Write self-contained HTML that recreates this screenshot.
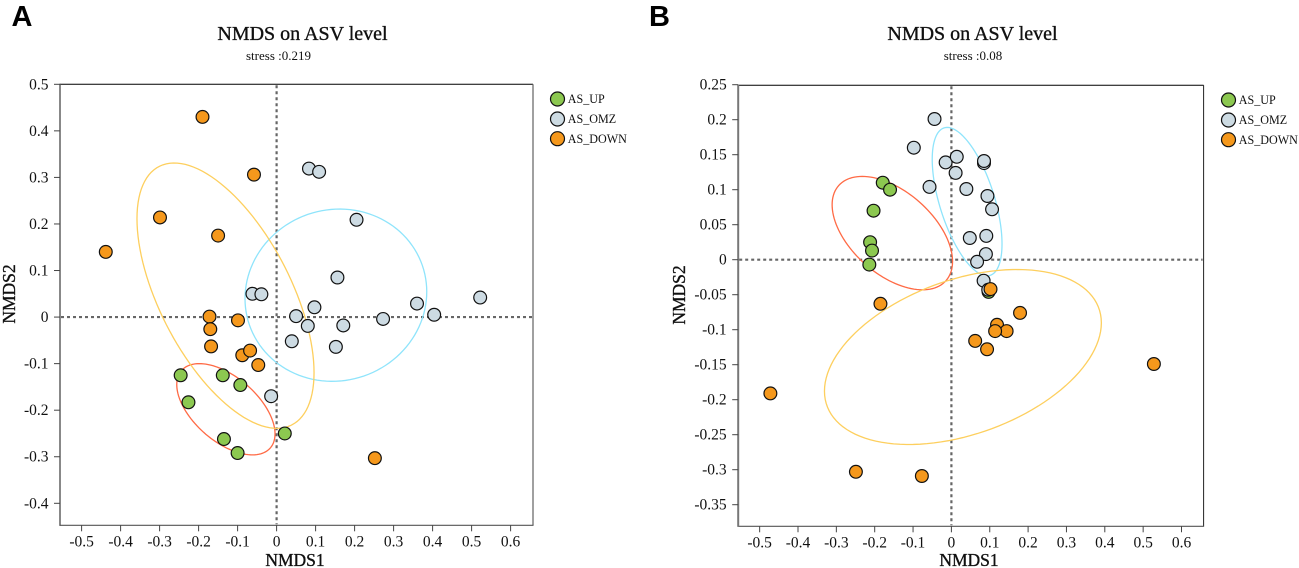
<!DOCTYPE html>
<html>
<head>
<meta charset="utf-8">
<title>NMDS on ASV level</title>
<style>
html,body{margin:0;padding:0;background:#fff;}
svg{display:block;filter:blur(0.35px);}
text{font-family:"Liberation Serif",serif;fill:#111;}
.panel{font-family:"Liberation Sans",sans-serif;font-weight:bold;font-size:29px;fill:#000;}
.heavy{stroke:#111;stroke-width:0.35px;}
</style>
</head>
<body>
<svg id="chart" width="1299" height="568" viewBox="0 0 1299 568" xmlns="http://www.w3.org/2000/svg">
<text class="panel" style="font-family:'Liberation Sans',sans-serif" x="11.5" y="26">A</text>
<text class="panel" style="font-family:'Liberation Sans',sans-serif" x="649" y="26">B</text>
<text class="heavy" x="302.5" y="40" text-anchor="middle" font-size="20">NMDS on ASV level</text>
<text x="278.5" y="60" text-anchor="middle" font-size="13">stress :0.219</text>
<text class="heavy" x="972.5" y="40" text-anchor="middle" font-size="20">NMDS on ASV level</text>
<text x="973" y="60" text-anchor="middle" font-size="13">stress :0.08</text>
<text class="heavy" x="295" y="566" text-anchor="middle" font-size="17.5">NMDS1</text>
<text class="heavy" x="969" y="566" text-anchor="middle" font-size="17.5">NMDS1</text>
<text class="heavy" transform="translate(15,294) rotate(-90)" text-anchor="middle" font-size="17.5">NMDS2</text>
<text class="heavy" transform="translate(685,295) rotate(-90)" text-anchor="middle" font-size="17.5">NMDS2</text>
</svg>
<script>
// Shared categories and tick values
const groups = ['AS_UP', 'AS_OMZ', 'AS_DOWN'];
const xTicksA = [-0.5, -0.4, -0.3, -0.2, -0.1, 0, 0.1, 0.2, 0.3, 0.4, 0.5, 0.6];
const yTicksA = [-0.4, -0.3, -0.2, -0.1, 0, 0.1, 0.2, 0.3, 0.4, 0.5];
const xTicksB = [-0.5, -0.4, -0.3, -0.2, -0.1, 0, 0.1, 0.2, 0.3, 0.4, 0.5, 0.6];
const yTicksB = [-0.35, -0.3, -0.25, -0.2, -0.15, -0.1, -0.05, 0, 0.05, 0.1, 0.15, 0.2, 0.25];

// Panel A samples: [NMDS1, NMDS2]
const upA = [[-0.246,-0.125],[-0.138,-0.125],[-0.093,-0.146],[-0.226,-0.183],[-0.135,-0.262],[-0.100,-0.292],[0.021,-0.250]];
const omzA = [[0.083,0.319],[0.109,0.312],[0.205,0.209],[0.156,0.085],[-0.062,0.050],[-0.039,0.049],[0.050,0.002],[0.097,0.021],[0.080,-0.019],[0.171,-0.018],[0.039,-0.052],[0.152,-0.064],[0.273,-0.004],[0.360,0.029],[0.404,0.005],[0.522,0.042],[-0.014,-0.170]];
const downA = [[-0.190,0.430],[-0.058,0.306],[-0.299,0.214],[-0.150,0.175],[-0.438,0.140],[-0.172,0.001],[-0.170,-0.026],[-0.168,-0.063],[-0.099,-0.007],[-0.088,-0.082],[-0.068,-0.072],[-0.047,-0.103],[0.252,-0.303]];

// Panel A confidence ellipses: [centre x, centre y, half-width, half-height, correlation]
const ellipseUpA = [-0.130,-0.198,0.126,0.098,-0.54];
const ellipseOmzA = [0.152,0.047,0.233,0.185,0.04];
const ellipseDownA = [-0.131,0.046,0.227,0.285,-0.58];

// Panel B samples
const upB = [[-0.179,0.110],[-0.160,0.100],[-0.203,0.070],[-0.212,0.025],[-0.207,0.013],[-0.214,-0.007],[0.097,-0.046]];
const omzB = [[-0.044,0.201],[-0.098,0.160],[-0.015,0.139],[0.014,0.147],[0.011,0.124],[0.085,0.138],[0.085,0.141],[-0.057,0.104],[0.039,0.101],[0.094,0.091],[0.106,0.072],[0.091,0.034],[0.048,0.031],[0.090,0.008],[0.067,-0.003],[0.084,-0.030],[0.096,-0.043]];
const downB = [[0.102,-0.042],[-0.185,-0.063],[0.179,-0.076],[0.119,-0.093],[0.144,-0.102],[0.114,-0.102],[0.062,-0.116],[0.093,-0.128],[0.528,-0.149],[-0.472,-0.191],[-0.249,-0.303],[-0.077,-0.309]];

// Panel B confidence ellipses
const ellipseUpB = [-0.154,0.038,0.157,0.081,-0.50];
const ellipseOmzB = [0.041,0.083,0.091,0.106,-0.57];
const ellipseDownB = [0.030,-0.139,0.361,0.125,0.39];

const svg = document.getElementById('chart');
const NS = 'http://www.w3.org/2000/svg';
const COLORS = {fill:['#8cc850','#cddbe3','#f5981c'], ring:['#ff6a45','#8fe4fb','#fdcf5e']};

function mk(tag, attrs, parent) {
  const el = document.createElementNS(NS, tag);
  for (const k in attrs) el.setAttribute(k, attrs[k]);
  (parent || svg).appendChild(el);
  return el;
}
function linear(d0, d1, r0, r1) {
  return function (v) { return r0 + (v - d0) * (r1 - r0) / (d1 - d0); };
}
function ellipsePath(e, X, Y) {
  const n = 120;
  const root = Math.sqrt(1 - e[4] * e[4]);
  let d = '';
  for (let i = 0; i <= n; i++) {
    const t = i / n * 2 * Math.PI;
    const dx = e[0] + e[2] * Math.cos(t);
    const dy = e[1] + e[3] * (e[4] * Math.cos(t) + root * Math.sin(t));
    d += (i ? 'L' : 'M') + X(dx).toFixed(2) + ' ' + Y(dy).toFixed(2);
  }
  return d + 'Z';
}

function drawPanel(p) {
  const id = p.id;
  const g = mk('g', {});
  
  
  const X = linear(p.xd[0], p.xd[1], p.xr[0], p.xr[1]);
  const Y = linear(p.yd[0], p.yd[1], p.yr[0], p.yr[1]);

  // Frame
  const topEdge = mk('line', {x1:p.box[0], x2:p.box[2], y1:p.box[1], y2:p.box[1], stroke:'#000', 'stroke-width':1}, g);
  
  
  const rightEdge = mk('line', {x1:p.box[2], x2:p.box[2], y1:p.box[1], y2:p.box[3], stroke:p.rightColor, 'stroke-width':p.rightWidth}, g);
  
  
  const xAxis = mk('line', {x1:p.box[0]-0.5, x2:p.box[2]+0.5, y1:p.box[3], y2:p.box[3], stroke:'#555', 'stroke-width':1.2}, g);
  
  
  const yAxis = mk('line', {x1:p.box[0], x2:p.box[0], y1:p.box[1]-0.5, y2:p.box[3]+0.5, stroke:p.leftColor, 'stroke-width':p.leftWidth}, g);
  
  

  // Ticks
  p.xTicks.forEach(function (v) {
    const t = mk('line', {x1:X(v), x2:X(v), y1:p.box[3], y2:p.box[3]+6, stroke:'#444', 'stroke-width':1}, g);
    
    
    const l = mk('text', {x:X(v), y:p.box[3]+21, 'text-anchor':'middle', 'font-size':15.5}, g);
    
    
    l.textContent = String(v);
  });
  p.yTicks.forEach(function (v) {
    const t = mk('line', {x1:p.box[0]-6, x2:p.box[0], y1:Y(v), y2:Y(v), stroke:'#444', 'stroke-width':1}, g);
    
    
    const l = mk('text', {x:p.box[0]-11.5, y:Y(v)+5, 'text-anchor':'end', 'font-size':15.5}, g);
    
    
    l.textContent = String(v);
  });

  // Zero reference lines
  const hz = mk('line', {x1:p.box[0]+1, x2:p.box[2]-1, y1:Y(0), y2:Y(0), stroke:'#666', 'stroke-width':2.2, 'stroke-dasharray':'3 3'}, g);
  
  
  const vt = mk('line', {x1:X(0), x2:X(0), y1:p.box[1]+1, y2:p.box[3]-1, stroke:'#666', 'stroke-width':2.2, 'stroke-dasharray':'3 3'}, g);
  
  

  // Ellipses
  p.ellipses.forEach(function (e, i) {
    const path = mk('path', {d:ellipsePath(e, X, Y), fill:'none', stroke:COLORS.ring[i], 'stroke-width':1.3}, g);
    
    
  });

  // Points
  p.series.forEach(function (pts, i) {
    pts.forEach(function (pt) {
      const c = mk('circle', {cx:X(pt[0]), cy:Y(pt[1]), r:6.4, fill:COLORS.fill[i], stroke:'#111', 'stroke-width':1.2}, g);
      
      
    });
  });

  // Legend
  groups.forEach(function (name, i) {
    const ly = p.legendY[i];
    const c = mk('circle', {cx:p.legendX, cy:ly, r:7, fill:COLORS.fill[i], stroke:'#111', 'stroke-width':1.2}, g);
    
    
    const l = mk('text', {x:p.legendX+10.3, y:ly+4.2, 'font-size':12.1}, g);
    
    
    l.textContent = name;
  });
}

drawPanel({
  id:'a', box:[60,84.3,533,525.3],
  xd:[-0.5,0.6], xr:[81.6,510.6], yd:[-0.4,0.5], yr:[503.3,84.3],
  xTicks:xTicksA, yTicks:yTicksA,
  leftColor:'#555', leftWidth:1.4, rightColor:'#777', rightWidth:1.4,
  series:[upA, omzA, downA], ellipses:[ellipseUpA, ellipseOmzA, ellipseDownA],
  legendX:557.5, legendY:[99,119,138.7]
});
drawPanel({
  id:'b', box:[738.2,85.3,1203.6,526.3],
  xd:[-0.5,0.6], xr:[759.65,1181.5], yd:[-0.35,0.25], yr:[504.7,84.7],
  xTicks:xTicksB, yTicks:yTicksB,
  leftColor:'#777', leftWidth:2, rightColor:'#222', rightWidth:1,
  series:[upB, omzB, downB], ellipses:[ellipseUpB, ellipseOmzB, ellipseDownB],
  legendX:1228.5, legendY:[100,120,139.7]
});
</script>
</body>
</html>
